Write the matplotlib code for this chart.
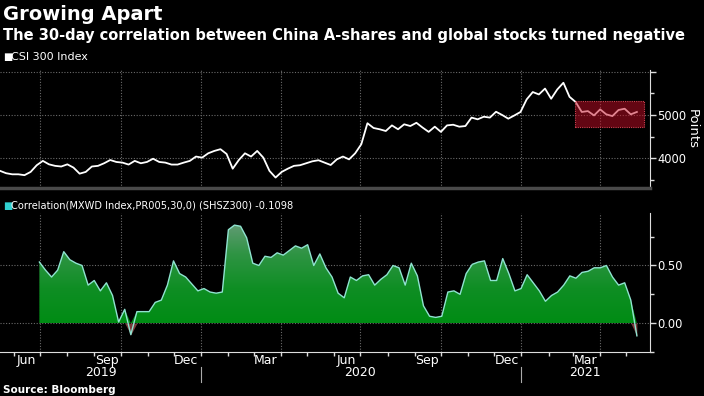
import numpy as np
import pandas as pd
import matplotlib
matplotlib.use("Agg")
import matplotlib.pyplot as plt
import matplotlib.dates as mdates
from matplotlib.colors import LinearSegmentedColormap
from matplotlib.patches import Rectangle

# CSI 300 index, weekly readings from 2019-05-16
csi_values = [
    3710, 3655, 3630, 3630, 3610, 3685, 3840, 3940, 3860, 3825,
    3810, 3860, 3785, 3645, 3685, 3810, 3825, 3885, 3960, 3915,
    3900, 3855, 3940, 3885, 3915, 3990, 3915, 3900, 3855, 3855,
    3900, 3940, 4040, 4015, 4115, 4170, 4210, 4100, 3760, 3960,
    4115, 4040, 4170, 4015, 3710, 3555, 3685, 3760, 3825, 3840,
    3885, 3930, 3955, 3900, 3845, 3975, 4040, 3975, 4115, 4325,
    4810, 4700, 4670, 4630, 4760, 4670, 4785, 4745, 4820, 4710,
    4610, 4730, 4610, 4760, 4775, 4730, 4745, 4940, 4900, 4960,
    4940, 5075, 5000, 4915, 4990, 5070, 5360, 5530, 5475, 5610,
    5375, 5590, 5745, 5420, 5300, 5070, 5090, 4990, 5130, 5015,
    4975, 5115, 5145, 5015, 5070,
]
csi_dates = pd.date_range("2019-05-16", periods=len(csi_values), freq="7D")

# 30-day correlation MXWD vs SHSZ300
corr_values = [
    0.53, 0.46, 0.40, 0.46, 0.62, 0.55, 0.52, 0.50, 0.33, 0.37,
    0.28, 0.35, 0.24, 0.01, 0.12, -0.10, 0.10, 0.10, 0.10, 0.18,
    0.20, 0.33, 0.54, 0.43, 0.40, 0.34, 0.28, 0.30, 0.27, 0.26,
    0.27, 0.81, 0.85, 0.84, 0.74, 0.52, 0.50, 0.58, 0.57, 0.61,
    0.59, 0.63, 0.67, 0.65, 0.68, 0.50, 0.60, 0.48, 0.40, 0.26,
    0.22, 0.40, 0.37, 0.41, 0.42, 0.33, 0.38, 0.42, 0.50, 0.48,
    0.33, 0.52, 0.41, 0.15, 0.06, 0.05, 0.06, 0.27, 0.28, 0.25,
    0.43, 0.51, 0.53, 0.54, 0.37, 0.37, 0.56, 0.43, 0.28, 0.30,
    0.42, 0.35, 0.28, 0.19, 0.24, 0.27, 0.33, 0.41, 0.39, 0.44,
    0.45, 0.48, 0.48, 0.50, 0.40, 0.33, 0.35, 0.20, -0.1098,
]
corr_dates = pd.date_range("2019-06-30", "2021-05-13", periods=len(corr_values))

month_labels = ["Jun", "Sep", "Dec", "Mar", "Jun", "Sep", "Dec", "Mar"]
month_label_dates = ["2019-06-15", "2019-09-15", "2019-12-15", "2020-03-15",
                     "2020-06-15", "2020-09-15", "2020-12-15", "2021-03-15"]
year_labels = ["2019", "2020", "2021"]
year_label_dates = ["2019-09-08", "2020-07-01", "2021-03-15"]
year_breaks = ["2020-01-01", "2021-01-01"]

box_start, box_end = "2021-03-03", "2021-05-21"
box_low, box_high = 4720, 5325

x_start, x_end = pd.Timestamp("2019-05-16"), pd.Timestamp("2021-05-28")

BG = "black"
GRID = "#6a6a6a"
narrow = ["Liberation Sans Narrow", "DejaVu Sans"]

fig = plt.figure(figsize=(7.04, 3.96), dpi=100, facecolor=BG)
ax1 = fig.add_axes([0.0, 0.5253, 0.9233, 0.2979], facecolor=BG)
ax2 = fig.add_axes([0.0, 0.1111, 0.9233, 0.3510], facecolor=BG)

quarters = mdates.MonthLocator(bymonth=[1, 4, 7, 10])

for ax in (ax1, ax2):
    ax.set_xlim(x_start, x_end)
    ax.xaxis.set_major_locator(quarters)
    ax.grid(True, color=GRID, linestyle=(0, (1, 1.5)), linewidth=0.8)
    ax.yaxis.tick_right()
    ax.tick_params(axis="y", direction="out", length=4, width=1, color="#dddddd",
                   labelcolor="white", labelsize=8.3, pad=1)
    ax.tick_params(axis="y", which="minor", direction="out", length=3, width=1, color="#dddddd")
    for s in ("left", "top"):
        ax.spines[s].set_visible(False)
    ax.spines["right"].set_color("#dddddd")
    ax.set_axisbelow(True)

# --- top panel: CSI 300
ax1.plot(csi_dates, csi_values, color="white", lw=1.3, zorder=3)
ax1.set_ylim(3314, 6039)
ax1.set_yticks([4000, 5000, 6000])
ax1.set_yticklabels(["4000", "5000", ""])
ax1.set_yticks([3500, 4500, 5500], minor=True)
ax1.tick_params(axis="x", length=0, labelbottom=False)
ax1.spines["bottom"].set_color("#4a4a4a")
ax1.spines["bottom"].set_linewidth(2.5)
ax1.yaxis.set_label_position("right")
ax1.set_ylabel("Points", rotation=270, color="white", fontsize=9.5, labelpad=9)

b0, b1 = mdates.date2num(pd.Timestamp(box_start)), mdates.date2num(pd.Timestamp(box_end))
ax1.add_patch(Rectangle((b0, box_low), b1 - b0, box_high - box_low,
                        facecolor=(0.78, 0.05, 0.15, 0.5), edgecolor="#d04050",
                        linestyle=(0, (1, 1)), lw=0.8, zorder=4))

# --- bottom panel: correlation
ax2.set_ylim(-0.237, 0.955)
ax2.set_yticks([0.0, 0.5])
ax2.set_yticklabels(["0.00", "0.50"])
ax2.set_yticks([-0.25, 0.25, 0.75], minor=True)

pos = np.clip(corr_values, 0, None)
neg = np.clip(corr_values, None, 0)
poly = ax2.fill_between(corr_dates, 0, pos, facecolor="none", edgecolor="none")
grad_cmap = LinearSegmentedColormap.from_list(
    "g", ["#008c14", "#0f8e24", "#2f9444", "#6a9c7c"])
grad = np.linspace(0, 1, 256).reshape(-1, 1)
im = ax2.imshow(grad, cmap=grad_cmap, origin="lower", aspect="auto",
                extent=[mdates.date2num(x_start), mdates.date2num(x_end), 0, 0.9],
                zorder=2)
im.set_clip_path(poly.get_paths()[0], transform=ax2.transData)
ax2.fill_between(corr_dates, neg, 0, color="#7a3a3a", lw=0, zorder=2)
ax2.plot(corr_dates, corr_values, color="#8fe3d0", lw=1.0, zorder=3)
ax2.set_xlim(x_start, x_end)

ax2.xaxis.set_minor_locator(mdates.MonthLocator())
ax2.tick_params(axis="x", which="both", direction="out", length=3, width=1,
                color="#dddddd", labelbottom=False)
ax2.spines["bottom"].set_color("#dddddd")

xt = ax2.get_xaxis_transform()
for lab, d in zip(month_labels, month_label_dates):
    ax2.text(pd.Timestamp(d), -0.058, lab, transform=xt, ha="center", va="center",
             color="white", fontsize=9, family=narrow, clip_on=False)
for lab, d in zip(year_labels, year_label_dates):
    ax2.text(pd.Timestamp(d), -0.151, lab, transform=xt, ha="center", va="center",
             color="white", fontsize=9, family=narrow, clip_on=False)
for d in year_breaks:
    ax2.plot([pd.Timestamp(d)] * 2, [-0.108, -0.216], transform=xt, color="#aaaaaa",
             lw=0.8, clip_on=False)

# --- titles and legends
fig.text(0.004, 0.963, "Growing Apart", color="white", fontsize=14, weight="bold",
         va="center", ha="left")
fig.text(0.004, 0.911, "The 30-day correlation between China A-shares and global stocks turned negative",
         color="white", fontsize=10.5, weight="bold", va="center", ha="left")
fig.text(0.004, 0.856, "\u25a0", color="white", fontsize=7, va="center")
fig.text(0.016, 0.856, "CSI 300 Index", color="white", fontsize=8, family=narrow, va="center")
fig.text(0.004, 0.48, "\u25a0", color="#30d0d0", fontsize=7, va="center")
fig.text(0.016, 0.48, "Correlation(MXWD Index,PR005,30,0) (SHSZ300) -0.1098", color="white",
         fontsize=7.1, family=narrow, va="center")
fig.text(0.004, 0.016, "Source: Bloomberg", color="white", fontsize=7.5, weight="bold",
         va="center", ha="left")

fig.savefig("out.png", dpi=100, facecolor=BG)
